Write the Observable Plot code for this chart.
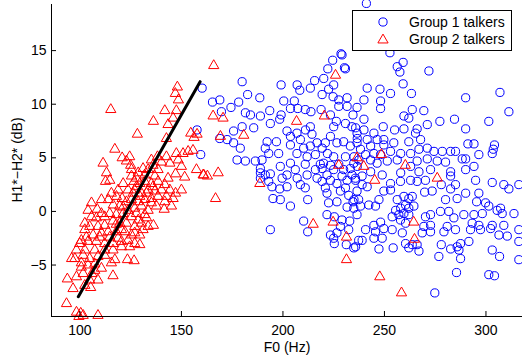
<!DOCTYPE html>
<html><head><meta charset="utf-8">
<script src="https://cdn.jsdelivr.net/npm/d3@7"></script>
<script src="https://cdn.jsdelivr.net/npm/@observablehq/plot@0.6"></script>
<style>body{margin:0;background:#fff}#chart{width:522px;height:358px}</style>
</head><body><div id="chart"></div>
<script>
const xTicks = [100, 150, 200, 250, 300];
const yTicks = [-5, 0, 5, 10, 15];
const xDomain = [86, 318];
const yDomain = [-9.8, 19.3];
const xLabel = "F0 (Hz)";
const yLabel = "H1*\u2212H2* (dB)";
const seriesNames = ["Group 1 talkers", "Group 2 talkers"];
const fitF0 = [99.2, 159.2];
const fitH = [-7.95, 12.1];

// Group 1 talkers: [F0 (Hz), H1*-H2* (dB)]
const group1 = [
[160.2,11.5],[165.3,10.2],[168.9,10.4],[169.7,9.3],[157.7,7.6],[159.5,5.3],[168.9,6.8],
[179.9,12.1],[199.1,11.8],[207.0,11.8],[208.3,11.3],[213.5,11.5],[215.6,12.2],[220.1,12.4],[222.1,13.3],[224.5,14.1],
[228.6,14.7],[230.3,13.4],[225.0,11.8],[222.5,11.4],[182.6,10.9],[188.6,10.6],[178.2,10.2],[174.4,9.7],[181.5,9.2],
[184.0,9.0],[188.9,8.9],[193.5,9.4],[193.8,8.2],[199.1,9.0],[198.4,8.6],[200.4,10.3],[203.7,9.6],[205.6,10.3],
[207.3,9.6],[211.0,9.5],[213.8,9.3],[218.8,9.5],[219.3,10.9],[224.7,10.7],[227.5,10.4],[231.6,10.6],[227.5,9.8],
[231.6,9.8],[236.5,9.7],[234.5,9.0],[223.4,9.0],[226.3,8.4],[225.0,7.9],[230.8,8.2],[234.0,7.9],[236.5,7.3],
[179.9,7.9],[185.6,7.8],[175.7,7.5],[172.5,6.7],[175.7,6.4],[179.0,5.9],[177.4,4.8],[181.5,4.7],[186.4,4.7],
[189.7,4.8],[192.2,6.5],[191.3,5.9],[193.0,5.4],[197.9,5.4],[196.8,6.5],[202.0,7.5],[203.7,7.0],[203.7,6.2],
[206.9,7.3],[208.6,6.7],[211.1,7.6],[213.5,7.9],[214.3,7.2],[210.2,5.9],[213.5,6.1],[216.8,6.4],[219.3,5.9],
[220.9,6.4],[223.4,7.0],[226.6,6.4],[229.9,6.5],[233.2,6.1],[236.5,6.4],[206.9,5.4],[211.9,5.1],[216.0,5.3],
[221.9,5.4],[225.0,5.1],[230.8,5.1],[218.4,4.4],[211.0,4.4],[203.7,4.5],[198.7,4.2],[188.9,4.0],
[188.9,3.6],[191.3,3.4],[193.8,3.5],[188.9,3.1],[193.0,2.8],[194.6,2.3],[198.4,2.1],[202.0,2.3],[199.6,3.1],
[202.0,3.4],[206.1,3.9],[207.0,3.1],[208.6,2.5],[211.0,2.2],[212.2,1.1],[203.7,0.5],[198.7,1.1],[195.1,1.2],
[193.8,-1.7],[210.2,-0.9],[212.2,-1.9],[211.9,3.4],[216.0,3.9],[219.3,4.0],[216.8,3.1],[221.7,3.4],[225.0,3.9],
[229.9,3.9],[233.2,4.0],[231.6,2.9],[235.7,3.1],[226.6,2.6],[220.9,2.2],[221.7,1.7],[230.8,2.2],[226.6,0.9],
[234.5,0.9],[234.9,0.3],[236.5,-0.3],[221.7,-0.3],[225.3,-0.5],[229.1,-0.8],[232.9,-0.9],[228.3,-1.4],[232.4,-1.7],
[223.4,-2.2],[225.0,-2.5],[226.6,-2.0],[225.3,-3.0],[231.2,-3.1],[234.9,-3.4],[237.3,-2.7],
[220.0,4.5],[223.4,4.3],[227.5,4.4],[234.9,4.5],[229.1,3.3],[234.0,3.4],[223.4,2.9],[219.3,2.8],[228.3,1.9],
[232.4,1.5],[236.5,1.9],[237.3,1.1],[222.5,0.8],[231.6,0.4],
[241.1,19.4],[229.1,14.6],[230.8,13.3],
[252.7,14.8],[256.3,13.5],[259.2,13.9],[257.6,13.0],[271.9,13.1],[259.2,11.9],[241.5,11.5],[247.8,11.4],[253.0,11.0],
[263.3,11.0],[239.9,10.4],[248.1,10.3],[248.1,9.6],[263.7,9.5],[269.4,9.4],[259.6,8.9],[262.0,8.7],[290.0,10.6],
[306.9,11.1],[311.3,9.3],[301.4,8.4],[277.3,8.4],[284.5,8.6],[290.0,7.7],[271.1,8.1],[266.1,7.7],[265.3,7.3],
[259.6,7.7],[255.0,7.6],[249.4,7.9],[244.8,7.3],[239.9,8.6],[239.9,7.6],[235.8,7.8],[236.6,6.8],[241.5,6.7],
[246.4,6.7],[249.7,6.7],[254.6,6.4],[262.0,6.5],[267.8,6.7],[271.1,5.9],[267.0,5.8],[262.9,5.4],[258.0,5.4],
[253.0,5.6],[249.7,6.2],[243.2,6.1],[238.2,5.8],[274.4,5.6],[278.5,5.6],[282.6,5.6],[285.0,5.6],[276.0,4.7],
[280.1,4.6],[271.1,4.9],[266.1,4.7],[256.3,4.8],[251.4,4.7],[246.4,4.5],[243.2,4.8],[288.3,4.9],[290.0,4.9],
[291.1,6.3],[294.1,6.3],[296.5,5.3],[303.1,5.4],[303.6,5.8],[304.2,6.2],[294.1,4.2],[290.0,3.9],[282.6,3.7],
[272.7,3.9],[267.0,3.7],[262.9,4.2],[258.0,3.6],[248.9,3.4],[236.6,4.2],[235.0,5.1],[237.4,4.8],[240.7,5.3],
[244.8,5.4],[248.1,5.3],[243.2,3.7],[239.0,3.3],
[235.8,2.9],[239.0,2.5],[241.5,2.3],[253.0,2.6],[249.7,1.9],[253.0,2.0],[257.9,2.8],[262.9,2.9],[266.1,2.8],
[270.2,2.9],[269.8,1.8],[273.5,1.9],[278.0,2.5],[282.6,3.3],[285.0,2.5],[282.6,2.1],[294.9,2.9],[290.0,1.7],
[285.8,1.2],[280.1,1.1],[296.5,1.7],[303.1,2.7],[308.8,2.5],[311.3,2.1],[316.2,2.5],[235.0,1.1],[238.2,0.5],
[242.3,0.6],[245.6,0.5],[247.3,1.1],[256.3,1.1],[259.6,1.4],[262.0,1.2],[263.7,1.4],[255.5,0.1],[258.0,0.3],
[260.4,0.6],[262.0,0.3],[264.5,0.5],[253.8,-0.5],[257.1,-0.3],[259.6,-0.2],[262.0,-0.3],[257.9,-0.8],[260.4,-1.1],
[270.2,-0.5],[272.7,-0.3],[277.6,0.0],[281.7,0.0],[284.2,-0.6],[285.0,-1.7],[280.9,-1.4],[279.3,-1.9],[272.7,-1.3],
[269.4,-1.4],[272.7,-1.9],[268.6,-2.0],[266.1,-3.1],[262.0,-3.4],[267.0,-3.7],[263.7,-3.1],[260.4,-3.0],[258.8,-2.0],
[253.8,-1.7],[249.7,-1.6],[248.1,-1.0],[244.8,-1.3],[245.6,-1.9],[240.7,-1.7],[248.9,-2.5],[244.8,-2.5],[239.0,-2.7],
[235.8,-3.3],[247.3,-3.5],[254.3,-3.4],[276.8,-4.2],[278.0,-3.1],[282.6,-3.5],[285.8,-3.3],[287.5,-3.0],[286.7,-3.6],
[287.5,-4.4],[291.6,-2.8],[285.5,-5.7],[274.8,-7.6],[301.4,-5.9],[304.2,-6.0],[303.1,-3.6],[306.7,-4.2],[316.2,-4.5],
[316.2,-2.8],[310.5,-2.3],[306.4,-2.2],[302.3,-1.6],[303.1,-1.3],[297.3,-1.7],[296.5,-1.3],[293.2,-1.1],[292.4,-1.7],
[289.1,-0.3],[294.1,-0.3],[295.4,0.9],[299.8,0.8],[301.4,0.5],[305.5,0.1],[308.0,-0.2],[307.2,0.3],[313.8,-0.2],
[316.2,-1.7],[308.8,-1.3],[298.2,-0.2]
];

// Group 2 talkers: [F0 (Hz), H1*-H2* (dB)]
const group2 = [
[165.9,13.6],[148.0,11.6],[147.0,11.0],[148.5,10.4],[115.2,9.5],[141.8,9.4],[147.5,9.4],[145.9,8.7],[136.2,8.4],
[143.4,8.1],[165.6,8.9],[128.3,7.2],[142.6,6.8],[154.6,7.3],[156.2,6.9],[117.2,5.8],[120.8,5.0],[124.5,5.1],
[122.9,4.7],[125.0,4.3],[111.4,4.5],[135.2,4.8],[138.2,5.1],[140.2,4.6],[136.0,4.3],[144.3,4.5],[142.6,5.1],
[147.5,5.4],[150.8,5.4],[153.3,5.6],[155.7,5.7],[148.4,4.8],[150.0,4.2],[147.1,3.5],[151.6,3.2],[157.4,3.9],
[160.7,3.4],[162.8,3.3],[168.1,3.6],[166.8,1.2],[131.1,4.0],[133.6,3.9],[128.7,3.6],[125.4,3.3],[113.1,3.6],
[112.6,2.8],[114.7,2.9],[126.7,2.8],[127.8,2.3],[129.5,2.6],[131.9,2.8],[135.2,2.6],[138.5,2.8],[141.8,2.5],
[144.3,2.0],[147.1,1.7],[150.0,2.0],[140.2,2.0],[136.9,1.9],[133.6,2.0],[130.3,1.7],[126.2,1.7],[123.7,2.0],
[118.0,1.4],[120.8,1.2],[122.9,0.9],[125.4,1.1],[128.7,0.9],[131.9,1.1],[135.2,1.2],[138.5,1.4],[141.8,0.9],
[145.1,0.5],[141.5,0.2],[137.7,0.5],[133.6,0.1],[130.3,0.5],[127.0,0.3],[110.6,1.1],[105.7,0.8],[104.0,0.1],
[116.4,0.6],[119.6,0.5],[108.5,0.2],[108.1,-0.6],[112.2,-0.5],[114.7,-0.2],[117.9,-0.3],[121.3,-0.2],[125.4,-0.5],
[128.7,-0.8],[132.8,-0.6],[136.2,-1.3],[133.6,-1.4],[130.3,-1.1],[127.0,-1.4],[122.9,-1.1],[119.6,-1.1],[116.3,-0.9],
[112.2,-1.3],[108.9,-1.4],[104.8,-1.4],[102.4,-1.7],[103.2,-2.4],[106.5,-2.2],[110.6,-2.0],[113.9,-1.9],[117.9,-1.9],
[122.1,-1.9],[125.4,-2.2],[129.5,-2.2],[123.7,-2.7],[120.5,-2.8],[116.4,-3.0],[112.2,-3.0],[108.1,-2.8],[104.0,-2.8],
[100.7,-2.7],[127.0,-3.0],[129.5,-3.1],[120.5,-3.3],[97.5,-4.4],[101.6,-4.1],[104.8,-4.4],[108.9,-4.2],[112.2,-4.1],
[117.2,-4.5],[123.4,-4.5],[126.7,-4.6],[115.5,-4.8],[104.0,-5.0],[100.7,-5.2],[110.6,-5.3],[107.3,-5.5],[101.6,-5.8],
[116.3,-6.0],[93.8,-6.3],[98.3,-6.1],[104.8,-6.4],[96.6,-7.2],[105.3,-7.1],[102.4,-6.9],[93.4,-8.6],[98.3,-9.4],
[100.4,-9.5],[101.6,-9.7],[108.9,-9.7],[99.5,-9.8],
[102.4,-1.1],[105.7,-0.5],[109.8,-2.4],[114.7,-2.4],[118.8,-2.5],[124.5,-3.3],[116.3,-3.6],[112.2,-3.6],[107.3,-3.6],
[102.4,-3.6],[100.7,-4.8],[107.3,-4.9],[121.3,0.4],[123.7,0.1],[129.5,1.4],[132.8,1.7],[136.0,2.3],[127.0,2.0],
[121.3,2.6],[118.8,2.0],[115.5,1.7],[114.0,1.1],[110.6,-0.2],[125.4,3.9],[127.8,3.1],[131.9,3.4],[136.9,3.3],
[138.5,3.9],[143.4,3.1],[142.6,1.4],[145.9,1.2],[135.2,0.8],[131.9,-0.3],[127.8,-0.2],[131.1,-1.7],[127.0,-2.0],
[120.5,-1.7],[117.9,-1.2],[99.9,-3.0],[98.3,-3.6],[95.9,-4.4],[108.9,-6.4],[105.9,-5.8],
[225.9,12.7],[170.5,8.7],[206.7,8.4],[220.4,8.9],[169.2,7.0],[180.7,7.1],[157.7,7.2],[227.5,4.3],[236.5,5.0],
[161.0,3.4],[188.6,2.6],[214.9,-1.2],[224.7,-1.0],[231.3,-2.4],[231.3,-4.5],[239.8,4.2],[248.5,5.3],[260.3,4.3],
[276.0,3.1],[245.2,2.9],[264.4,-1.0],[264.8,-2.6],[247.7,-6.1],[258.4,-7.6]
];

const g1 = group1.map(([f, h]) => ({f, h}));
const g2 = group2.map(([f, h]) => ({f, h}));
const fit = fitF0.map((f, i) => ({f, h: fitH[i]}));

const W = 522, H = 358, mL = 51, mR = 0, mT = 4, mB = 42;
const tickLenX = (xDomain[1] - xDomain[0]) * 5 / (W - mL - mR);
const tickLenY = (yDomain[1] - yDomain[0]) * 5 / (H - mT - mB);
const RED = "#ff0000", BLUE = "#0000ff";
const triR = 3.8, cirR = 4.1;

const plot = Plot.plot({
  width: W, height: H,
  marginLeft: mL, marginRight: mR, marginTop: mT, marginBottom: mB,
  style: {fontFamily: "'Liberation Sans', Arial, Helvetica, sans-serif", fontSize: "14px", background: "#fff", color: "#000", overflow: "visible"},
  x: {domain: xDomain, ticks: xTicks, tickSize: 0, tickPadding: 9, label: null},
  y: {domain: yDomain, ticks: yTicks, tickSize: 0, tickPadding: 5, label: null},
  marks: [
    Plot.dot(g1, {x: "f", y: "h", r: cirR, stroke: BLUE, strokeWidth: 1, fill: "none"}),
    Plot.dot(g2, {x: "f", y: "h", r: triR, symbol: "triangle", stroke: RED, strokeWidth: 1, fill: "none"}),
    Plot.line(fit, {x: "f", y: "h", stroke: "#000", strokeWidth: 3}),
    Plot.ruleX([xDomain[0]], {stroke: "#000", strokeWidth: 1}),
    Plot.ruleY([yDomain[0]], {stroke: "#000", strokeWidth: 1}),
    Plot.ruleX(xTicks, {y1: yDomain[0], y2: yDomain[0] + tickLenY, stroke: "#000"}),
    Plot.ruleY(yTicks, {x1: xDomain[0], x2: xDomain[0] + tickLenX, stroke: "#000"})
  ]
});
document.getElementById("chart").appendChild(plot);

const svg = d3.select(plot);
const font = "'Liberation Sans', Arial, Helvetica, sans-serif";
svg.append("text").attr("x", (mL + W - mR) / 2 + 0.5).attr("y", 347).attr("dy", "0.35em")
  .attr("text-anchor", "middle").attr("font-family", font).attr("font-size", 14).attr("fill", "#000").text(xLabel);
svg.append("text").attr("transform", `translate(17.5,${(mT + H - mB) / 2}) rotate(-90)`).attr("dy", "0.35em")
  .attr("text-anchor", "middle").attr("font-family", font).attr("font-size", 14).attr("fill", "#000").text(yLabel);

const lg = svg.append("g");
lg.append("rect").attr("x", 352.5).attr("y", 10.5).attr("width", 159).attr("height", 40)
  .attr("fill", "#fff").attr("stroke", "#000").attr("stroke-width", 1);
lg.append("circle").attr("cx", 383).attr("cy", 22).attr("r", cirR)
  .attr("fill", "none").attr("stroke", BLUE).attr("stroke-width", 1);
lg.append("path").attr("transform", "translate(383,40)")
  .attr("d", d3.symbol(d3.symbolTriangle, Math.PI * triR * triR)())
  .attr("fill", "none").attr("stroke", RED).attr("stroke-width", 1);
seriesNames.forEach((name, i) => {
  lg.append("text").attr("x", 409).attr("y", 22 + i * 17.5).attr("dy", "0.35em")
    .attr("text-anchor", "start")
    .attr("font-family", font).attr("font-size", 14).attr("fill", "#000").text(name);
});
</script>
</body></html>
